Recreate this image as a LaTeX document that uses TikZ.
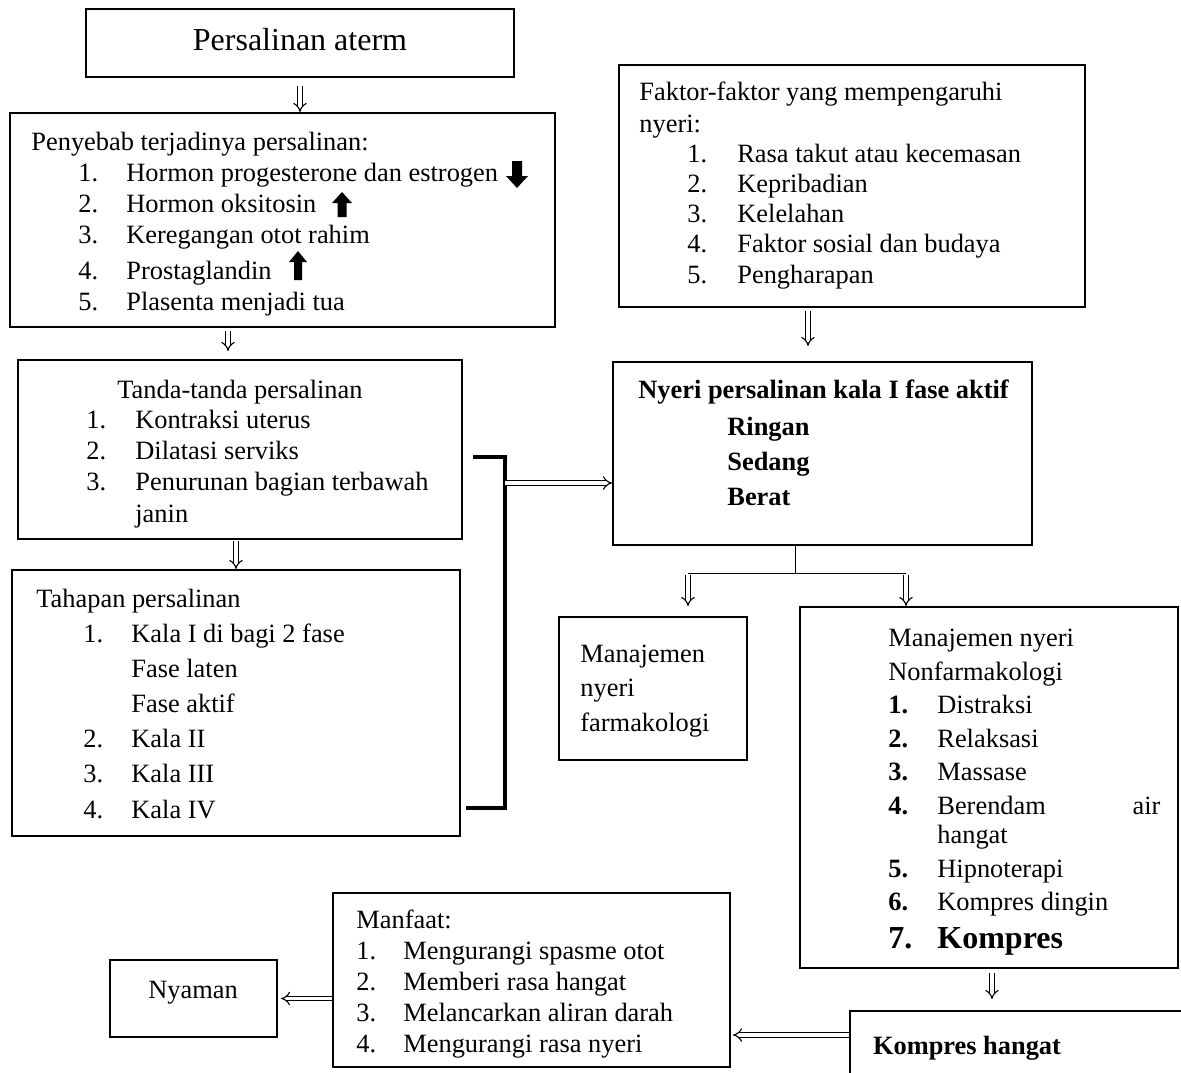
\documentclass[tikz,border=0pt]{standalone}
\usepackage{fontspec}
\setmainfont{Liberation Serif}
\usetikzlibrary{arrows.meta}

\newcommand\bodyfont[1]{\fontsize{13.2pt}{#1}\selectfont}
\newcommand\itemno[2][24pt]{\makebox[#1][l]{#2}}

\begin{document}
\begin{tikzpicture}[x=0.5pt,y=-0.5pt,
    box/.style={draw=black,line width=1pt,inner sep=0pt},
    txt/.style={anchor=base west,align=left,inner sep=0pt},
    dbl/.style={double,double distance=1.8pt,line width=0.55pt,-{Implies}}]
  \useasboundingbox (0,0) rectangle (1181,1072);
  \clip (0,0) rectangle (1181,1072);

  % Persalinan aterm
  \node[box,minimum width=214pt,minimum height=34pt] (aterm) at (300,43) {};
  \node[anchor=base,inner sep=0pt,font=\fontsize{16pt}{19pt}\selectfont] (atermtxt) at (300,50) {Persalinan aterm};

  % Penyebab (multi-line texts sit on the baseline of their last line)
  \node[box,minimum width=272.5pt,minimum height=107pt] (penyebab) at (282.5,220) {};
  \node[txt,font=\bodyfont{15.5pt}] (penyebabtitle) at (31,150) {Penyebab terjadinya persalinan:};
  \node[txt,font=\bodyfont{15.5pt}] (penyebablist) at (78,310)
    {\itemno{1.}Hormon progesterone dan estrogen\\
     \itemno{2.}Hormon oksitosin\\
     \itemno{3.}Keregangan otot rahim\\[2.5pt]
     \itemno{4.}Prostaglandin\\
     \itemno{5.}Plasenta menjadi tua};
  \fill (517,188) -- (528,176) -- (522,176) -- (522,161) -- (512,161) -- (512,176) -- (506,176) -- cycle;
  \fill (342,192) -- (352,203) -- (346.5,203) -- (346.5,217) -- (337.5,217) -- (337.5,203) -- (332,203) -- cycle;
  \fill (298,251) -- (307,262) -- (302,262) -- (302,280) -- (294,280) -- (294,262) -- (289,262) -- cycle;

  % Tanda-tanda
  \node[box,minimum width=222pt,minimum height=89.5pt] (tanda) at (240,449.5) {};
  \node[txt,font=\bodyfont{15.5pt}] (tandatitle) at (117,398) {Tanda-tanda persalinan};
  \node[txt,font=\bodyfont{15.65pt}] (tandalist) at (86,522)
    {\itemno[24.5pt]{1.}Kontraksi uterus\\
     \itemno[24.5pt]{2.}Dilatasi serviks\\
     \itemno[24.5pt]{3.}Penurunan bagian terbawah\\
     \hspace*{24.5pt}janin};

  % Tahapan
  \node[box,minimum width=224pt,minimum height=133pt] (tahapan) at (236,703) {};
  \node[txt,font=\bodyfont{15.5pt}] (tahapantitle) at (36,607) {Tahapan persalinan};
  \node[txt,font=\bodyfont{17.6pt}] (tahapanlist) at (83,818)
    {\itemno{1.}Kala I di bagi 2 fase\\
     \hspace*{24pt}Fase laten\\
     \hspace*{24pt}Fase aktif\\
     \itemno{2.}Kala II\\
     \itemno{3.}Kala III\\
     \itemno{4.}Kala IV};

  % Faktor
  \node[box,minimum width=233pt,minimum height=121pt] (faktor) at (852,186) {};
  \node[txt,font=\bodyfont{16pt}] (faktortitle) at (639,132) {Faktor-faktor yang mempengaruhi\\nyeri:};
  \node[txt,font=\bodyfont{15.1pt}] (faktorlist) at (687,283)
    {\itemno[25pt]{1.}Rasa takut atau kecemasan\\
     \itemno[25pt]{2.}Kepribadian\\
     \itemno[25pt]{3.}Kelelahan\\
     \itemno[25pt]{4.}Faktor sosial dan budaya\\
     \itemno[25pt]{5.}Pengharapan};

  % Nyeri
  \node[box,minimum width=209.5pt,minimum height=91.5pt] (nyeri) at (822.5,453.5) {};
  \node[txt,font=\bodyfont{17.5pt}\bfseries] (nyerititle) at (638,398) {Nyeri persalinan kala I fase aktif};
  \node[txt,font=\bodyfont{17.5pt}\bfseries] (nyerilist) at (727,505) {Ringan\\Sedang\\Berat};

  % Manajemen
  \node[box,minimum width=94pt,minimum height=71.5pt] (farmako) at (653,688.5) {};
  \node[txt,font=\bodyfont{17.25pt}] (farmakotxt) at (580,731) {Manajemen\\nyeri\\farmakologi};
  \node[box,minimum width=189pt,minimum height=180.5pt] (nonfarmako) at (989,787.5) {};
  \node[txt,font=\bodyfont{16.75pt}] (nonfarmakotxt) at (888,948)
    {Manajemen nyeri\\
     Nonfarmakologi\\
     \itemno[24.5pt]{\textbf{1.}}Distraksi\\
     \itemno[24.5pt]{\textbf{2.}}Relaksasi\\
     \itemno[24.5pt]{\textbf{3.}}Massase\\
     \itemno[24.5pt]{\textbf{4.}}\makebox[111.5pt][s]{Berendam\hfill air}\\[-2pt]
     \hspace*{24.5pt}hangat\\
     \itemno[24.5pt]{\textbf{5.}}Hipnoterapi\\
     \itemno[24.5pt]{\textbf{6.}}Kompres dingin\\[2pt]
     {\fontsize{16pt}{16.75pt}\selectfont\bfseries\itemno[24.5pt]{7.}Kompres}};

  % Kompres hangat
  \node[box,minimum width=175pt,minimum height=44.5pt] (kompres) at (1025,1055.5) {};
  \node[anchor=base,inner sep=0pt,font=\bodyfont{15.5pt}\bfseries] (komprestxt) at (967,1054) {Kompres hangat};

  % Manfaat
  \node[box,minimum width=198.5pt,minimum height=87pt] (manfaat) at (531.5,980) {};
  \node[txt,font=\bodyfont{15.5pt}] (manfaattxt) at (356,1052)
    {Manfaat:\\
     \itemno[23.5pt]{1.}Mengurangi spasme otot\\
     \itemno[23.5pt]{2.}Memberi rasa hangat\\
     \itemno[23.5pt]{3.}Melancarkan aliran darah\\
     \itemno[23.5pt]{4.}Mengurangi rasa nyeri};

  % Nyaman
  \node[box,minimum width=83.5pt,minimum height=38.5pt] (nyaman) at (193.5,998.5) {};
  \node[anchor=base,inner sep=0pt,font=\bodyfont{15.5pt}] (nyamantxt) at (193,998) {Nyaman};

  % Bracket and junction points
  \coordinate (brtop) at (505,457);
  \coordinate (brmid) at (505,483);
  \coordinate (brbot) at (505,808);
  \coordinate (split) at (795,573);
  \coordinate (splitL) at (688,573);
  \coordinate (splitR) at (906,573);
  \coordinate (kwest) at ([yshift=10.25pt]kompres.west);

  % Connectors
  \draw[dbl,shorten <=4pt] (aterm.south -| atermtxt.base) -- (penyebab.north -| atermtxt.base);
  \draw[dbl,shorten <=1.5pt,shorten >=4pt] ([xshift=-27.25pt]penyebab.south) -- ([xshift=-27.25pt]penyebab.south |- tanda.north);
  \draw[dbl,shorten <=0.5pt] ([xshift=-2pt]tanda.south) -- ([xshift=-2pt]tanda.south |- tahapan.north);
  \draw[line width=2pt,shorten <=5pt] (tanda.east |- brtop) -- ([xshift=1pt]brtop) -- (brtop) -- (brbot);
  \draw[line width=2pt,shorten <=2.5pt] (tahapan.east |- brbot) -- ([xshift=1pt]brbot);
  \draw[dbl] (brmid) -- (nyeri.west |- brmid);
  \draw[dbl,shorten <=1.5pt,shorten >=7.5pt] ([xshift=-22pt]faktor.south) -- ([xshift=-22pt]faktor.south |- nyeri.north);
  \draw[line width=0.5pt] (nyeri.south -| split) -- (split);
  \draw[line width=0.5pt] (splitL) -- (splitR);
  \draw[dbl,shorten <=1pt,shorten >=5pt] (splitL) -- (farmako.north -| splitL);
  \draw[dbl,shorten <=1pt] (splitR) -- (nonfarmako.north -| splitR);
  \draw[dbl,shorten <=2pt,shorten >=5.5pt] ([xshift=1.5pt]nonfarmako.south) -- ([xshift=1.5pt]nonfarmako.south |- kompres.north);
  \draw[dbl,shorten >=1pt] (kwest) -- (manfaat.east |- kwest);
  \draw[dbl,shorten >=1.5pt] (manfaat.west |- nyaman.east) -- (nyaman.east);
\end{tikzpicture}
\end{document}
